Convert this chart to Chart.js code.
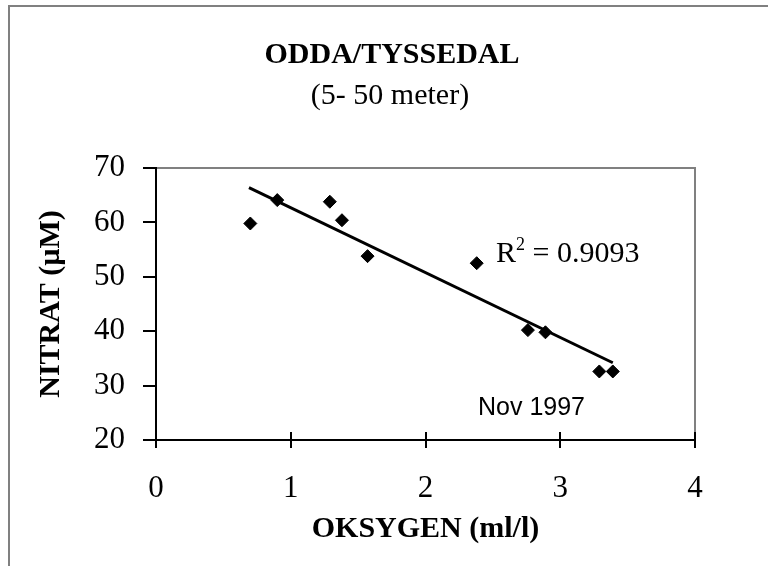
<!DOCTYPE html>
<html>
<head>
<meta charset="utf-8">
<script src="https://cdn.jsdelivr.net/npm/chart.js@4/dist/chart.umd.min.js"></script>
<style>
  body { margin: 0; background: #fff; }
  canvas { display: block; }
</style>
</head>
<body>
<canvas id="chart" width="768" height="566"></canvas>
<script>
// oxygen (ml/l) vs nitrate (uM), Odda/Tyssedal Nov 1997
const oksygen = [0.70, 0.90, 1.29, 1.38, 1.57, 2.38, 2.76, 2.89, 3.29, 3.39];
const nitrat = [59.8, 64.1, 63.8, 60.4, 53.8, 52.5, 40.2, 39.8, 32.6, 32.6];
// trend line ends
const trendX = [0.69, 3.39];
const trendY = [66.4, 34.2];
const xTicks = [0, 1, 2, 3, 4];
const yTicks = [20, 30, 40, 50, 60, 70];

const serif = "'Liberation Serif', 'Times New Roman', serif";
Chart.defaults.font.family = serif;
Chart.defaults.color = '#000';

const extras = {
  id: 'extras',
  beforeDraw(chart) {
    const ctx = chart.ctx;
    ctx.save();
    ctx.fillStyle = '#fff';
    ctx.fillRect(0, 0, chart.width, chart.height);
    // outer frame
    ctx.strokeStyle = '#808080';
    ctx.lineWidth = 2;
    ctx.beginPath();
    ctx.moveTo(9, 566);
    ctx.lineTo(9, 6);
    ctx.lineTo(768, 6);
    ctx.stroke();
    // plot area frame (top & right)
    const a = chart.chartArea;
    ctx.beginPath();
    ctx.moveTo(a.left, a.top);
    ctx.lineTo(a.right, a.top);
    ctx.lineTo(a.right, a.bottom);
    ctx.stroke();
    // titles
    ctx.fillStyle = '#000';
    ctx.textAlign = 'center';
    ctx.textBaseline = 'alphabetic';
    ctx.font = 'bold 30px ' + serif;
    ctx.fillText('ODDA/TYSSEDAL', 392, 63);
    ctx.font = '30px ' + serif;
    ctx.fillText('(5- 50 meter)', 390, 104);
    ctx.restore();
  },
  afterDraw(chart) {
    const ctx = chart.ctx;
    const xs = chart.scales.x, ys = chart.scales.y;
    const a = chart.chartArea;
    ctx.save();
    ctx.strokeStyle = '#000';
    ctx.lineWidth = 2;
    ctx.beginPath();
    xTicks.forEach(v => {
      const px = Math.round(xs.getPixelForValue(v));
      ctx.moveTo(px, a.bottom - 8);
      ctx.lineTo(px, a.bottom + 8);
    });
    yTicks.forEach(v => {
      const py = Math.round(ys.getPixelForValue(v));
      ctx.moveTo(a.left - 13, py);
      ctx.lineTo(a.left, py);
    });
    ctx.stroke();
    // R squared label
    ctx.fillStyle = '#000';
    ctx.textAlign = 'left';
    ctx.textBaseline = 'alphabetic';
    ctx.font = '30px ' + serif;
    ctx.fillText('R', 496, 262);
    let w = ctx.measureText('R').width;
    ctx.font = '18px ' + serif;
    ctx.fillText('2', 496 + w, 250);
    w += ctx.measureText('2').width;
    ctx.font = '30px ' + serif;
    ctx.fillText(' = 0.9093', 496 + w, 262);
    ctx.font = "25px 'Liberation Sans', Arial, sans-serif";
    ctx.fillText('Nov 1997', 478, 415);
    ctx.restore();
  }
};

new Chart(document.getElementById('chart'), {
  type: 'scatter',
  data: {
    datasets: [
      {
        label: 'trend',
        type: 'line',
        data: trendX.map((x, i) => ({ x: x, y: trendY[i] })),
        borderColor: '#000',
        borderWidth: 3,
        pointRadius: 0,
        fill: false,
        order: 2
      },
      {
        label: 'data',
        data: oksygen.map((x, i) => ({ x: x, y: nitrat[i] })),
        pointStyle: 'rectRot',
        pointRadius: 6.5,
        backgroundColor: '#000',
        borderColor: '#000',
        borderWidth: 1,
        order: 1
      }
    ]
  },
  options: {
    responsive: false,
    animation: false,
    layout: { padding: { top: 168, right: 73, left: 0, bottom: 0 } },
    plugins: { legend: { display: false }, tooltip: { enabled: false } },
    scales: {
      x: {
        type: 'linear',
        min: 0, max: 4,
        afterFit(s) { s.height = 126; },
        afterBuildTicks(s) { s.ticks = xTicks.map(v => ({ value: v })); },
        grid: { display: false, drawTicks: false },
        border: { display: true, color: '#000', width: 2 },
        ticks: { padding: 30, font: { size: 31 }, color: '#000', maxRotation: 0 },
        title: { display: true, text: 'OKSYGEN (ml/l)', font: { size: 30, weight: 'bold' }, color: '#000', padding: { top: 0, bottom: 19 } }
      },
      y: {
        type: 'linear',
        min: 20, max: 70,
        afterFit(s) { s.width = 156; },
        afterBuildTicks(s) { s.ticks = yTicks.map(v => ({ value: v })); },
        grid: { display: false, drawTicks: false },
        border: { display: true, color: '#000', width: 2 },
        ticks: { padding: 31, font: { size: 31 }, color: '#000' },
        title: { display: true, text: 'NITRAT (µM)', font: { size: 30, weight: 'bold' }, color: '#000', padding: { top: 33, bottom: 0 } }
      }
    }
  },
  plugins: [extras]
});
</script>
</body>
</html>
